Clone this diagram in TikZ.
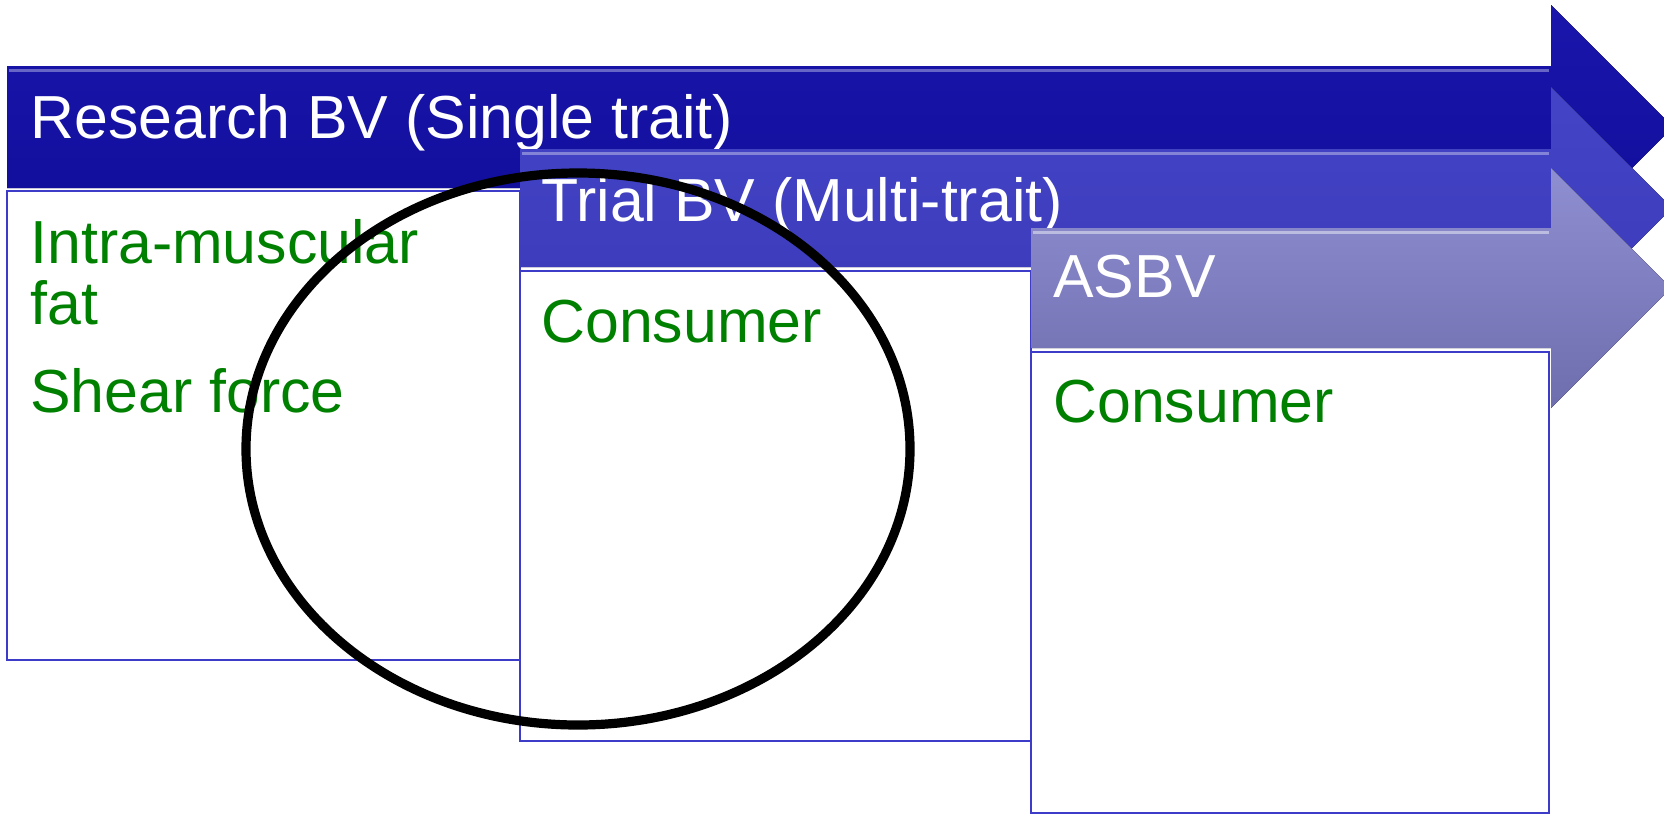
\documentclass[tikz,border=0pt]{standalone}
\usepackage{fontspec}
\setmainfont{Liberation Sans}
\begin{document}
\begin{tikzpicture}[x=0.5pt,y=-0.5pt,
  head/.style={text=white,font=\fontsize{30.4}{36}\selectfont,anchor=base west,inner sep=0pt},
  item/.style={text=itemgreen,font=\fontsize{30.4}{36}\selectfont,anchor=base west,inner sep=0pt},
  panel/.style={draw=panelblue,line width=1.2pt,fill=white},
  ring/.style={draw=black,line width=4.6pt}]
\definecolor{itemgreen}{HTML}{008000}
\definecolor{panelblue}{HTML}{3C3CC8}
\definecolor{aoneT}{HTML}{1A16AC}
\definecolor{aoneB}{HTML}{100C98}
\definecolor{atwoT}{HTML}{4444C8}
\definecolor{atwoB}{HTML}{3A3AB8}
\definecolor{athrT}{HTML}{8E8ED2}
\definecolor{athrB}{HTML}{6E6EAE}
\useasboundingbox (0,0) rectangle (1664,815);
\clip (0,0) rectangle (1664,815);
% first stage: research values
\fill[top color=aoneT,bottom color=aoneB]
  (7,66) -- (1551,66) -- (1551,5) -- (1673,127) -- (1551,249) -- (1551,188) -- (7,188) -- cycle;
\draw[line width=1.5pt,color=white,opacity=0.35] (9,70) -- (1549,70);
\draw[panel] (7,191) rectangle (520,660);
\node[head] (t1) at (30,138) {Research BV (Single trait)};
\node[item] (i1) at (30,263) {Intra-muscular};
\node[item] (i2) at (30,324) {fat};
\node[item] (i3) at (30,412) {Shear force};
% second stage: trial values
\fill[top color=atwoT,bottom color=atwoB]
  (520,149) -- (1551,149) -- (1551,87) -- (1672,208) -- (1551,329) -- (1551,267) -- (520,267) -- cycle;
\draw[line width=1.5pt,color=white,opacity=0.35] (522,153) -- (1549,153);
\draw[panel] (520,271) rectangle (1031,741);
\node[head] (t2) at (541,221) {Trial BV (Multi-trait)};
\node[item] (c2) at (541,342) {Consumer};
% third stage: ASBV
\fill[top color=athrT,bottom color=athrB]
  (1031,228) -- (1551,228) -- (1551,168) -- (1671,288) -- (1551,408) -- (1551,348) -- (1031,348) -- cycle;
\draw[line width=1.5pt,color=white,opacity=0.45] (1033,232) -- (1549,232);
\draw[panel] (1031,352) rectangle (1549,813);
\node[head] (t3) at (1053,297) {ASBV};
\node[item] (c3) at (1053,422) {Consumer};
% highlight ring
\draw[ring] (578,449) ellipse [x radius=332,y radius=276];
\end{tikzpicture}
\end{document}
